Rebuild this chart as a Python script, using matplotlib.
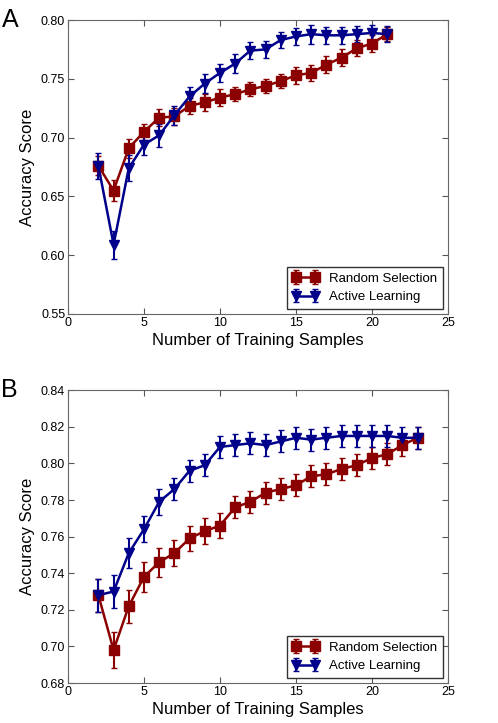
import numpy as np
import matplotlib.pyplot as plt

plt.rcParams['font.family'] = ['Liberation Sans', 'DejaVu Sans']

# Panel A
a_x_rand = list(range(2, 22))
a_rand = [0.676, 0.655, 0.691, 0.705, 0.717, 0.718, 0.727, 0.730, 0.734, 0.737,
          0.741, 0.744, 0.748, 0.753, 0.755, 0.762, 0.768, 0.776, 0.780, 0.788]
a_rand_err = [0.008, 0.009, 0.008, 0.007, 0.007, 0.007, 0.007, 0.007, 0.007, 0.006,
              0.006, 0.006, 0.006, 0.007, 0.007, 0.007, 0.007, 0.007, 0.007, 0.006]
a_x_act = list(range(2, 22))
a_act = [0.676, 0.609, 0.674, 0.694, 0.702, 0.719, 0.735, 0.746, 0.755, 0.763,
         0.774, 0.775, 0.783, 0.786, 0.788, 0.787, 0.787, 0.788, 0.789, 0.788]
a_act_err = [0.011, 0.012, 0.011, 0.009, 0.010, 0.008, 0.008, 0.008, 0.008, 0.008,
             0.007, 0.007, 0.007, 0.007, 0.008, 0.007, 0.007, 0.007, 0.007, 0.007]

# Panel B
b_x_rand = list(range(2, 24))
b_rand = [0.728, 0.698, 0.722, 0.738, 0.746, 0.751, 0.759, 0.763, 0.766, 0.776,
          0.779, 0.784, 0.786, 0.788, 0.793, 0.794, 0.797, 0.799, 0.803, 0.805,
          0.810, 0.814]
b_rand_err = [0.009, 0.010, 0.009, 0.008, 0.008, 0.007, 0.007, 0.007, 0.007, 0.006,
              0.006, 0.006, 0.006, 0.006, 0.006, 0.006, 0.006, 0.006, 0.006, 0.006,
              0.006, 0.006]
b_x_act = list(range(2, 24))
b_act = [0.728, 0.730, 0.751, 0.764, 0.779, 0.786, 0.796, 0.799, 0.809, 0.810,
         0.811, 0.810, 0.812, 0.814, 0.813, 0.814, 0.815, 0.815, 0.815, 0.815,
         0.814, 0.814]
b_act_err = [0.009, 0.009, 0.008, 0.007, 0.007, 0.006, 0.006, 0.006, 0.006, 0.006,
             0.006, 0.006, 0.006, 0.006, 0.006, 0.006, 0.006, 0.006, 0.006, 0.006,
             0.006, 0.006]

red = '#8b0000'
blue = '#00008b'


def draw_panel(ax, xr, yr, er, xa, ya, ea, ylim, yticks, letter):
    ax.errorbar(xr, yr, yerr=er, color=red, ecolor=red, marker='s', markersize=7.5,
                linewidth=1.8, elinewidth=1.5, capsize=2.5, label='Random Selection')
    ax.errorbar(xa, ya, yerr=ea, color=blue, ecolor=blue, marker='v', markersize=7.5,
                linewidth=1.8, elinewidth=1.5, capsize=2.5, label='Active Learning')
    ax.set_xlim(0, 25)
    ax.set_ylim(*ylim)
    ax.set_xticks([0, 5, 10, 15, 20, 25])
    ax.set_yticks(yticks)
    ax.set_yticklabels(['%.2f' % t for t in yticks])
    ax.tick_params(direction='in', top=True, right=True, labelsize=9, length=4,
                   color='#555555', pad=2)
    for s in ax.spines.values():
        s.set_color('#666666')
    ax.set_xlabel('Number of Training Samples', fontsize=12, labelpad=3)
    ax.set_ylabel('Accuracy Score', fontsize=12)
    ax.legend(loc='lower right', fontsize=9.5, fancybox=False, framealpha=1,
              edgecolor='#333333', borderaxespad=0.4, numpoints=2)
    ax.text(-0.175, 1.0, letter, transform=ax.transAxes, fontsize=18, va='center')


fig = plt.figure(figsize=(4.98, 7.23), dpi=100)
ax1 = fig.add_axes([0.1365, 0.5657, 0.763, 0.4066])
ax2 = fig.add_axes([0.1365, 0.0553, 0.763, 0.405])

draw_panel(ax1, a_x_rand, a_rand, a_rand_err, a_x_act, a_act, a_act_err,
           (0.55, 0.80), [0.55, 0.60, 0.65, 0.70, 0.75, 0.80], 'A')
draw_panel(ax2, b_x_rand, b_rand, b_rand_err, b_x_act, b_act, b_act_err,
           (0.68, 0.84), [0.68, 0.70, 0.72, 0.74, 0.76, 0.78, 0.80, 0.82, 0.84], 'B')

fig.savefig('out.png', dpi=100)
